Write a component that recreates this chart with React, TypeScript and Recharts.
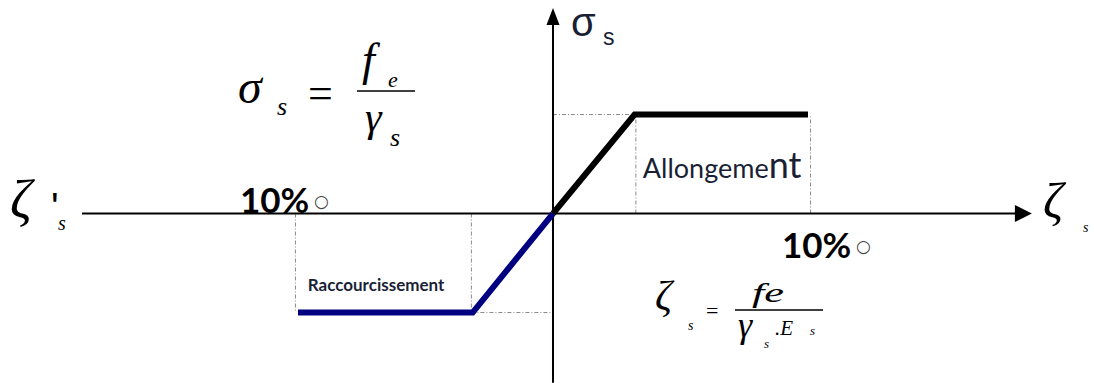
import React from 'react';
import { LineChart, Line, XAxis, YAxis, ReferenceLine, ReferenceDot } from 'recharts';

// strain in per-mille, stress normalised to fe / γs
const tensionStrain = [0, 3.2, 10];
const tensionStress = [0, 1, 1];
const compressionStrain = [0, -3.15, -10];
const compressionStress = [0, -1, -1];
const guideStrain = [-10.1, -3.2, 3.25, 10.1];
const axisStrain = [-18.47, 18.78];
const axisStress = [-1.71, 2.076];
const limitLabels = ['10%', '10%'];

const xDomain = [-21.686, 21.216];
const yDomain = [-1.712, 2.157];

const tension = tensionStrain.map((x, i) => ({ x, y: tensionStress[i] }));
const compression = compressionStrain.map((x, i) => ({ x, y: compressionStress[i] }));

const SERIF = "'Liberation Serif', 'Times New Roman', serif";
const SANS = "Lato, 'Open Sans', sans-serif";
const INK = '#1a1f36';

const ArrowRight = ({ cx, cy }: any) => (
  <polygon points={`${cx},${cy} ${cx - 17},${cy - 8.5} ${cx - 17},${cy + 8.5}`} fill="#000" />
);
const ArrowUp = ({ cx, cy }: any) => (
  <polygon points={`${cx},${cy} ${cx - 6.5},${cy + 17} ${cx + 6.5},${cy + 17}`} fill="#000" />
);

const SigmaAxisLabel = ({ cx, cy }: any) => (
  <g fill={INK} fontFamily="'Liberation Sans', Arial, sans-serif">
    <text x={cx + 18} y={cy + 28} fontSize={40}>σ</text>
    <text x={cx + 50} y={cy + 37} fontSize={23}>s</text>
  </g>
);

const StressFormula = ({ cx, cy }: any) => (
  <g fill="#000" fontFamily={SERIF} fontStyle="italic">
    <text x={cx - 9} y={cy - 11.5} fontSize={48}>σ</text>
    <text x={cx + 30} y={cy + 0.5} fontSize={26}>s</text>
    <text x={cx + 61} y={cy - 6.5} fontSize={44} fontStyle="normal">=</text>
    <text x={cx + 115} y={cy - 39.5} fontSize={46}>f</text>
    <text x={cx + 141} y={cy - 27.5} fontSize={22}>e</text>
    <line x1={cx + 110} x2={cx + 168} y1={cy - 23.5} y2={cy - 23.5} stroke="#000" strokeWidth={1.5} />
    <text x={cx + 118} y={cy + 16.5} fontSize={42}>γ</text>
    <text x={cx + 143} y={cy + 31.5} fontSize={26}>s</text>
  </g>
);

const StrainFormula = ({ cx, cy }: any) => (
  <g fill="#000" fontFamily={SERIF} fontStyle="italic">
    <text x={cx - 102} y={cy - 2.5} fontSize={42}>ζ</text>
    <text x={cx - 69} y={cy + 17.5} fontSize={14}>s</text>
    <text x={cx - 51} y={cy + 5.5} fontSize={22} fontStyle="normal">=</text>
    <text x={cx - 5} y={cy - 10.5} fontSize={28} textLength={32} lengthAdjust="spacingAndGlyphs">fe</text>
    <line x1={cx - 22} x2={cx + 66} y1={cy - 2.5} y2={cy - 2.5} stroke="#000" strokeWidth={1.5} />
    <text x={cx - 19} y={cy + 24.5} fontSize={36}>γ</text>
    <text x={cx + 7} y={cy + 35.5} fontSize={13}>s</text>
    <text x={cx + 18} y={cy + 22.5} fontSize={21}>.E</text>
    <text x={cx + 53} y={cy + 22.5} fontSize={13}>s</text>
  </g>
);

const LimitLabel = ({ cx, cy, text, dx, dy }: any) => (
  <g>
    <text x={cx + dx} y={cy + dy} fontSize={35} fontWeight="bold" fontFamily={SANS} fill="#000">{text}</text>
    <text x={cx + dx + 74} y={cy + dy - 6} fontSize={17} fontFamily="'DejaVu Sans', sans-serif" fill="#444">○</text>
  </g>
);

const Allongement = ({ cx, cy }: any) => (
  <text x={cx + 8} y={cy + 63.5} fontFamily={SANS} fill={INK}>
    <tspan fontSize={27}>Allongeme</tspan>
    <tspan fontSize={36}>nt</tspan>
  </text>
);

const Raccourcissement = ({ cx, cy }: any) => (
  <text x={cx + 10} y={cy - 21.5} fontFamily={SANS} fontWeight="bold" fontSize={17} fill={INK}>
    Raccourcissement
  </text>
);

const CompressionAxisLabel = ({ cx, cy }: any) => (
  <g fill="#000">
    <text x={cx - 72} y={cy + 4.5} fontSize={54} fontFamily={SERIF} fontStyle="italic">ζ</text>
    <text x={cx - 31} y={cy + 7.5} fontSize={40} fontFamily="'Liberation Sans', sans-serif">'</text>
    <text x={cx - 24} y={cy + 16.5} fontSize={20} fontFamily={SERIF} fontStyle="italic">s</text>
  </g>
);

const TensionAxisLabel = ({ cx, cy }: any) => (
  <g fill="#000" fontFamily={SERIF} fontStyle="italic">
    <text x={cx + 11} y={cy + 4.5} fontSize={50}>ζ</text>
    <text x={cx + 51} y={cy + 18.5} fontSize={14}>s</text>
  </g>
);

const guide = { stroke: '#8a8a8a', strokeWidth: 1, strokeDasharray: '4 2 1 2' };

export default function App() {
  return (
    <div style={{ position: 'absolute', left: 0, top: 0, background: '#fff' }}>
      <LineChart width={1094} height={383} margin={{ top: 0, right: 0, bottom: 0, left: 0 }}>
        <XAxis type="number" dataKey="x" domain={xDomain} allowDataOverflow hide />
        <YAxis type="number" dataKey="y" domain={yDomain} allowDataOverflow hide />

        {/* dotted construction lines */}
        <ReferenceLine segment={[{ x: 0, y: tensionStress[1] }, { x: guideStrain[2], y: tensionStress[1] }]} {...guide} />
        <ReferenceLine segment={[{ x: guideStrain[2], y: 0 }, { x: guideStrain[2], y: tensionStress[1] }]} {...guide} />
        <ReferenceLine segment={[{ x: guideStrain[3], y: 0 }, { x: guideStrain[3], y: tensionStress[2] }]} {...guide} />
        <ReferenceLine segment={[{ x: guideStrain[1], y: compressionStress[1] }, { x: 0, y: compressionStress[1] }]} {...guide} />
        <ReferenceLine segment={[{ x: guideStrain[1], y: 0 }, { x: guideStrain[1], y: compressionStress[1] }]} {...guide} />
        <ReferenceLine segment={[{ x: guideStrain[0], y: 0 }, { x: guideStrain[0], y: compressionStress[2] }]} {...guide} />

        {/* axes */}
        <ReferenceLine segment={[{ x: axisStrain[0], y: 0 }, { x: axisStrain[1] - 0.5, y: 0 }]} stroke="#000" strokeWidth={2} ifOverflow="visible" />
        <ReferenceLine segment={[{ x: 0, y: axisStress[0] }, { x: 0, y: axisStress[1] - 0.1 }]} stroke="#000" strokeWidth={2} ifOverflow="visible" />
        <ReferenceDot x={axisStrain[1]} y={0} shape={ArrowRight} />
        <ReferenceDot x={0} y={axisStress[1]} shape={ArrowUp} />

        <Line data={compression} dataKey="y" type="linear" stroke="#000080" strokeWidth={6} strokeLinecap="butt" dot={false} activeDot={false} isAnimationActive={false} />
        <Line data={tension} dataKey="y" type="linear" stroke="#000" strokeWidth={6} strokeLinecap="butt" dot={false} activeDot={false} isAnimationActive={false} />

        {/* annotations */}
        <ReferenceDot x={0} y={axisStress[1]} shape={SigmaAxisLabel} />
        <ReferenceDot x={-12} y={1} shape={StressFormula} />
        <ReferenceDot x={8} y={-1} shape={StrainFormula} />
        <ReferenceDot x={tensionStrain[1] + 0.01} y={tensionStress[1]} shape={Allongement} />
        <ReferenceDot x={compressionStrain[2] - 0.01} y={compressionStress[2]} shape={Raccourcissement} />
        <ReferenceDot x={tensionStrain[2]} y={0} shape={(p: any) => <LimitLabel {...p} text={limitLabels[1]} dx={-26} dy={44.5} />} />
        <ReferenceDot x={compressionStrain[2]} y={0} shape={(p: any) => <LimitLabel {...p} text={limitLabels[0]} dx={-58} dy={-0.5} />} />
        <ReferenceDot x={axisStrain[0]} y={0} shape={CompressionAxisLabel} />
        <ReferenceDot x={axisStrain[1]} y={0} shape={TensionAxisLabel} />
      </LineChart>
    </div>
  );
}
